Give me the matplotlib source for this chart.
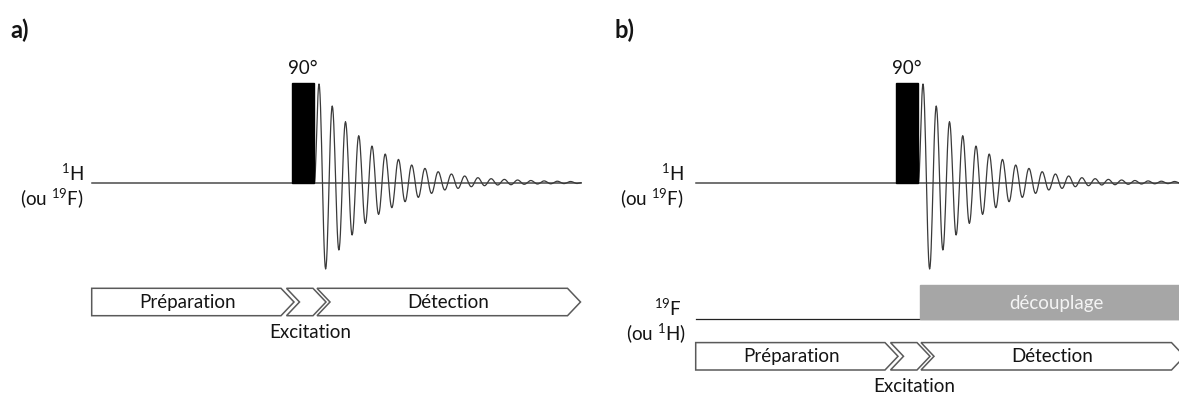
import numpy as np
import matplotlib.pyplot as plt
from matplotlib.patches import Polygon, Rectangle

plt.rcParams['font.family'] = ['Lato', 'DejaVu Sans']
plt.rcParams['mathtext.fontset'] = 'custom'
plt.rcParams['mathtext.rm'] = 'Lato'
plt.rcParams['mathtext.it'] = 'Lato:italic'
plt.rcParams['mathtext.bf'] = 'Lato:bold'

# FID extrema (px above / below the baseline)
peaks = [98.7, 76.7, 61, 47, 36.7, 28.7, 23.3, 17.7, 14.3, 11,
         8.7, 6.7, 5, 4, 3.3, 2.7, 2.2, 1.8, 1.5, 1.2]
troughs = [86.3, 67.3, 52.3, 40.7, 31.7, 25, 19, 14.7, 10.7, 7.3,
           5.7, 4, 3, 2.3, 2, 1.6, 1.3, 1.1, 0.9, 0.8]

phases = ['Préparation', 'Excitation', 'Détection']
panel_names = ['a)', 'b)']
pulse_label = '90°'
chan1 = [r'$\mathregular{^{1}H}$', r'$\mathregular{(ou\ ^{19}F)}$']
chan2 = [r'$\mathregular{^{19}F}$', r'$\mathregular{(ou\ ^{1}H)}$']
decoupling = 'découplage'

# layout (pixels, panel a coordinates)
W, H = 1179, 394
base_y = 182.7
line_x0, line_x1 = 91.7, 581
pulse_x0, pulse_x1, pulse_top = 292.3, 314.3, 83.3
fid_x0, half_period = 319, 6.62
arrow_half = 13.7
depth = 13
text_col = '#141414'
fs = 13.5


def fid_curve(x_start):
    ext = []
    for p, t in zip(peaks, troughs):
        ext += [p, -t]
    ex = x_start + half_period * np.arange(len(ext))
    xs, ys = [pulse_x1 + (x_start - fid_x0)], [0.0]
    s = np.linspace(0, 1, 14)[1:]
    # rise to first peak
    xs += list(xs[0] + (ex[0] - xs[0]) * s)
    ys += list(ext[0] * (1 - np.cos(np.pi * s)) / 2)
    for k in range(len(ext) - 1):
        m = (ext[k] + ext[k + 1]) / 2
        h = (ext[k] - ext[k + 1]) / 2
        xs += list(ex[k] + half_period * s)
        ys += list(m + h * np.cos(np.pi * s))
    xs.append(line_x1 + (x_start - fid_x0))
    ys.append(0.0)
    return np.array(xs), np.array(ys)


def draw_panel(ax, dx, ay, label_x, name, with_decoupling):
    ax.text(10 + dx, 30, name, fontsize=17, fontweight='bold',
            ha='left', va='center', color=text_col)
    ax.plot([line_x0 + dx, line_x1 + dx], [base_y, base_y],
            color='#4a4a4a', lw=1.1, zorder=2)
    ax.add_patch(Rectangle((pulse_x0 + dx, pulse_top), pulse_x1 - pulse_x0,
                           base_y - pulse_top, color='black', zorder=3))
    ax.text((pulse_x0 + pulse_x1) / 2 + dx, 68, pulse_label, fontsize=fs,
            ha='center', va='center', color=text_col)
    fx, fy = fid_curve(fid_x0 + dx)
    ax.plot(fx, base_y - fy, color='#3a3a3a', lw=0.9, zorder=2)
    ax.text(label_x, 173, chan1[0], fontsize=fs, ha='right', va='center',
            color=text_col)
    ax.text(label_x, 198, chan1[1], fontsize=fs, ha='right', va='center',
            color=text_col)

    top, bot = ay - arrow_half, ay + arrow_half
    shapes = [
        [(line_x0, top), (281, top), (281 + depth, ay), (281, bot), (line_x0, bot)],
        [(286.5, top), (313, top), (313 + depth, ay), (313, bot), (286.5, bot),
         (286.5 + depth, ay)],
        [(317, top), (567.5, top), (567.5 + depth, ay), (567.5, bot), (317, bot),
         (317 + depth, ay)],
    ]
    for pts in shapes:
        pts = [(x + dx, y) for x, y in pts]
        ax.add_patch(Polygon(pts, closed=True, facecolor='white',
                             edgecolor='#5a5a5a', lw=1.1, zorder=2))
    ax.text(188 + dx, ay + 0.5, phases[0], fontsize=fs, ha='center',
            va='center', color=text_col)
    ax.text(310 + dx, ay + 30, phases[1], fontsize=fs, ha='center',
            va='center', color=text_col)
    ax.text(448 + dx, ay + 0.5, phases[2], fontsize=fs, ha='center',
            va='center', color=text_col)

    if with_decoupling:
        y2 = 319.3
        ax.plot([line_x0 + dx, W + 10], [y2, y2], color='#222222', lw=0.9,
                zorder=2)
        ax.add_patch(Rectangle((pulse_x1 + dx + 2, 285), W - (pulse_x1 + dx),
                               y2 - 285, color='#a6a6a6', zorder=2))
        ax.text(1056, 303, decoupling, fontsize=fs, ha='center', va='center',
                color='#f4f4f4', zorder=3)
        ax.text(label_x - 2, 308, chan2[0], fontsize=fs, ha='right',
                va='center', color=text_col)
        ax.text(label_x + 2, 333, chan2[1], fontsize=fs, ha='right',
                va='center', color=text_col)


fig = plt.figure(figsize=(W / 100, H / 100), dpi=100)
ax = fig.add_axes([0, 0, 1, 1])
ax.set_xlim(0, W)
ax.set_ylim(H, 0)
ax.axis('off')

draw_panel(ax, 0, 302, 84, panel_names[0], False)
draw_panel(ax, 604, 356.3, 684, panel_names[1], True)

fig.savefig('out.png', dpi=100)
